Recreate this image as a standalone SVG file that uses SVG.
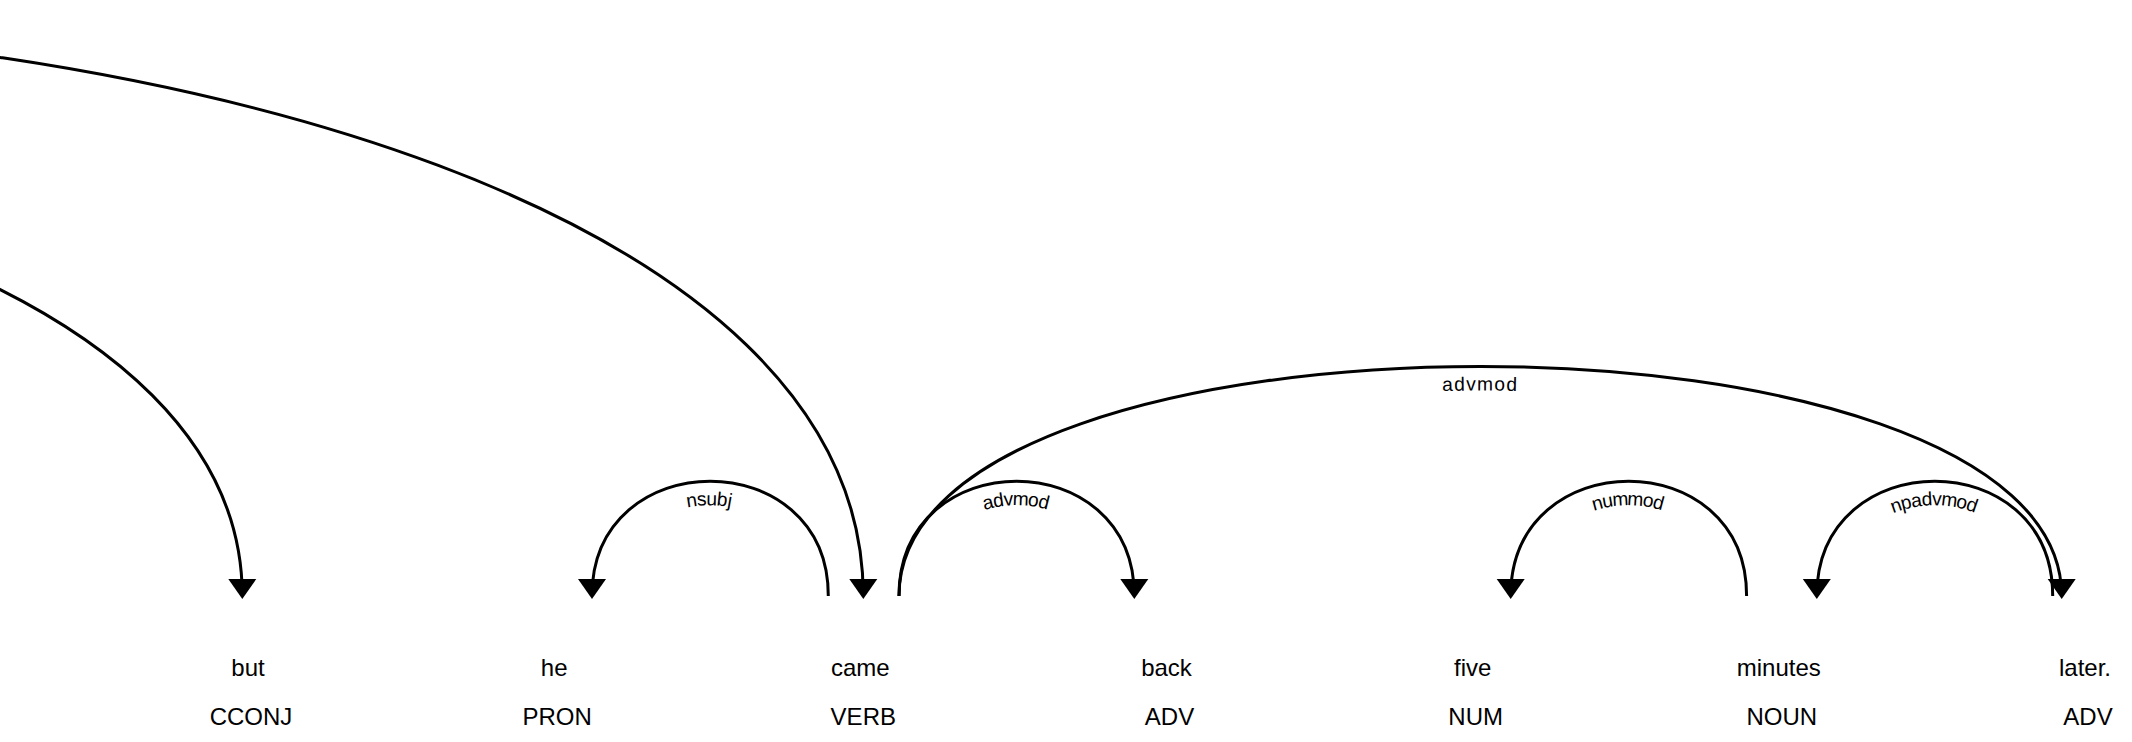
<svg xmlns="http://www.w3.org/2000/svg" width="2132" height="742" viewBox="0 0 2132 742">
<style>
  .word { font-family: "Liberation Sans", Arial, sans-serif; font-size: 24px; fill: #000; text-anchor: middle; }
  .arc { fill: none; stroke: #000; stroke-width: 3px; }
  .head { fill: #000; stroke: none; }
  .lbl { font-family: "Liberation Sans", Arial, sans-serif; font-size: 19.2px; letter-spacing: 1.5px; fill: #000; }
</style>
<rect x="0" y="0" width="2132" height="742" fill="#fff"/>
<g id="connectors">
  <path id="arc-conj" class="arc" d="M-1857,596 C-1857,-169.4 863.3,-169.4 863.3,596"/>
  <path class="head" d="M863.3,599 L849.3,579 877.3,579 Z"/>
  <path id="arc-cc" class="arc" d="M-1857,596 C-1857,-16.3 242.3,-16.3 242.3,596"/>
  <path class="head" d="M242.3,599 L228.3,579 256.3,579 Z"/>
  <path id="arc-nsubj" class="arc" d="M592,596 C592,443 828.3,443 828.3,596"/>
  <path class="head" d="M592,599 L578,579 606,579 Z"/>
  <text class="lbl" dy="1.25em"><textPath href="#arc-nsubj" startOffset="50%" text-anchor="middle">nsubj</textPath></text>
  <path id="arc-advmod1" class="arc" d="M899,596 C899,443 1134.3,443 1134.3,596"/>
  <path class="head" d="M1134.3,599 L1120.3,579 1148.3,579 Z"/>
  <text class="lbl" dy="1.25em"><textPath href="#arc-advmod1" startOffset="50%" text-anchor="middle">advmod</textPath></text>
  <path id="arc-advmod2" class="arc" d="M899,596 C899,290 2061.7,290 2061.7,596"/>
  <path class="head" d="M2061.7,599 L2047.7,579 2075.7,579 Z"/>
  <text class="lbl" dy="1.25em"><textPath href="#arc-advmod2" startOffset="50%" text-anchor="middle">advmod</textPath></text>
  <path id="arc-nummod" class="arc" d="M1510.7,596 C1510.7,443 1746.6,443 1746.6,596"/>
  <path class="head" d="M1510.7,599 L1496.7,579 1524.7,579 Z"/>
  <text class="lbl" dy="1.25em"><textPath href="#arc-nummod" startOffset="50%" text-anchor="middle">nummod</textPath></text>
  <path id="arc-npadvmod" class="arc" d="M1816.8,596 C1816.8,443 2052.7,443 2052.7,596"/>
  <path class="head" d="M1816.8,599 L1802.8,579 1830.8,579 Z"/>
  <text class="lbl" dy="1.25em"><textPath href="#arc-npadvmod" startOffset="50%" text-anchor="middle">npadvmod</textPath></text>
</g>
<g id="tok-but"><text class="word" x="248" y="675.7">but</text><text class="word" x="251" y="725">CCONJ</text></g>
<g id="tok-he"><text class="word" x="554.2" y="675.7">he</text><text class="word" x="557.2" y="725">PRON</text></g>
<g id="tok-came"><text class="word" x="860.3" y="675.7">came</text><text class="word" x="863.3" y="725">VERB</text></g>
<g id="tok-back"><text class="word" x="1166.5" y="675.7">back</text><text class="word" x="1169.5" y="725">ADV</text></g>
<g id="tok-five"><text class="word" x="1472.7" y="675.7">five</text><text class="word" x="1475.7" y="725">NUM</text></g>
<g id="tok-minutes"><text class="word" x="1778.8" y="675.7">minutes</text><text class="word" x="1781.8" y="725">NOUN</text></g>
<g id="tok-later"><text class="word" x="2085" y="675.7">later.</text><text class="word" x="2088" y="725">ADV</text></g>
</svg>
